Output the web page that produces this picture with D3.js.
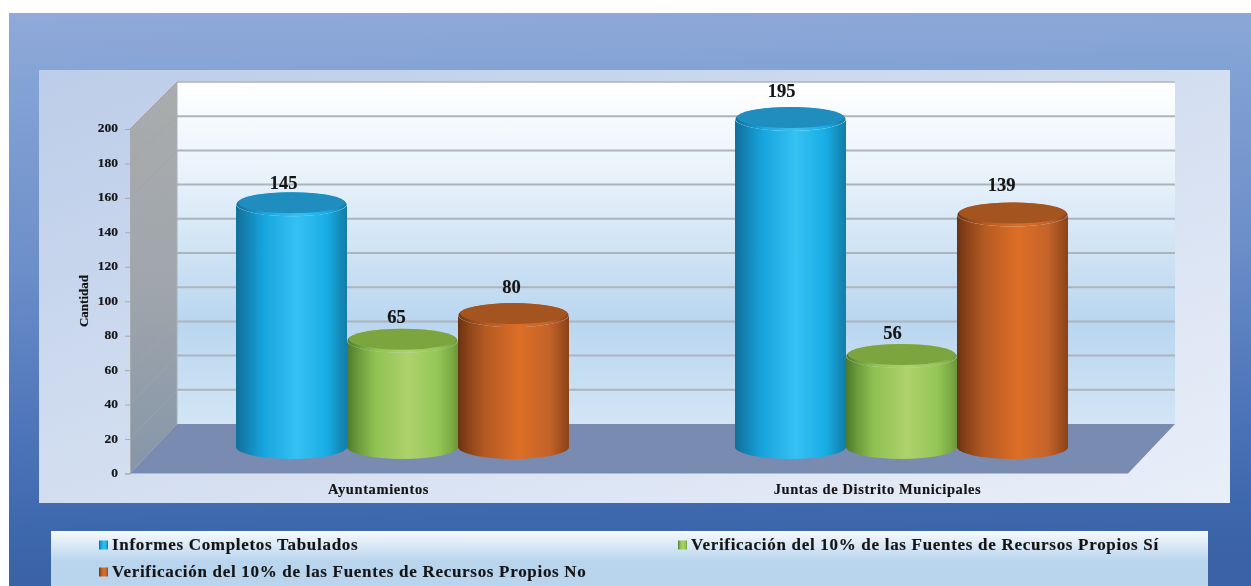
<!DOCTYPE html>
<html><head><meta charset="utf-8">
<script src="https://cdn.jsdelivr.net/npm/d3@7/dist/d3.min.js"></script>
<style>html,body{margin:0;padding:0;background:#fff}svg{display:block;filter:blur(0.45px)}
text{font-family:"Liberation Serif",serif;font-weight:bold;fill:#141414;stroke:#141414;stroke-width:.15px}</style></head>
<body><svg id="c" width="1251" height="586"></svg>
<script>
const categories=["Ayuntamientos","Juntas de Distrito Municipales"];
const seriesNames=["Informes Completos Tabulados","Verificación del 10% de las Fuentes de Recursos Propios Sí","Verificación del 10% de las Fuentes de Recursos Propios No"];
const informes=[145,195];
const verificacionSi=[65,56];
const verificacionNo=[80,139];
const yTicks=[0,20,40,60,80,100,120,140,160,180,200];
const seriesValues=[informes,verificacionSi,verificacionNo];
const labelNudgeX=[[-8,-9],[-6,-9],[-2,-11]];
const labelNudgeY=[[0,-7],[-3,-2],[-7,-9]];

const svg=d3.select("#c"),defs=svg.append("defs");
function grad(id,stops,x1=0,y1=0,x2=0,y2=1){
  const g=defs.append("linearGradient").attr("id",id).attr("x1",x1).attr("y1",y1).attr("x2",x2).attr("y2",y2);
  stops.forEach(s=>g.append("stop").attr("offset",s[0]).attr("stop-color",s[1]));
}
grad("outer",[[0,"#90aad9"],[.12,"#84a3d5"],[.45,"#6c8ec9"],[.75,"#4b73b8"],[.9,"#3e68ad"],[1,"#3a62a4"]],0,0,.05,1);
grad("panel",[[0,"#bccde9"],[.5,"#d3def0"],[1,"#e9eff9"]],0,0,1,1);
grad("wall",[[0,"#ffffff"],[.25,"#eaf3fb"],[.7,"#b9d6ef"],[1,"#d2e5f5"]]);
grad("side",[[0,"#aaacac"],[.5,"#a0a6ac"],[1,"#8696a8"]]);
grad("legendBg",[[0,"#f6fafe"],[.55,"#b9d5ed"],[1,"#b9d5ed"]]);
const palette=[
 {id:"b",top:"#1f8dbd",st:[[0,"#126f98"],[.1,"#1384b5"],[.25,"#17a5dd"],[.55,"#36c1f3"],[.82,"#17ade4"],[.95,"#1488b6"],[1,"#137da8"]]},
 {id:"g",top:"#7ca53f",st:[[0,"#4c7a2d"],[.1,"#6b9a3a"],[.25,"#8ec152"],[.55,"#aed26c"],[.82,"#94c656"],[.95,"#7aa843"],[1,"#6b953a"]]},
 {id:"o",top:"#a4541f",st:[[0,"#6b3212"],[.1,"#8e4519"],[.25,"#b55a23"],[.55,"#dd6f26"],[.82,"#c4632a"],[.95,"#9a4c1d"],[1,"#8a4218"]]}];
palette.forEach(p=>grad("cy"+p.id,p.st,0,0,1,0));

svg.append("rect").attr("x",9).attr("y",13).attr("width",1242).attr("height",573).attr("fill","url(#outer)");
svg.append("rect").attr("x",39).attr("y",70).attr("width",1191).attr("height",433).attr("fill","url(#panel)");

const x=d3.scaleBand().domain(categories).range([129,1127]);
const yFront=d3.scaleLinear().domain([0,200]).range([473.5,129]);
const yBack=d3.scaleLinear().domain([0,200]).range([424,82]);
const yTop=d3.scaleLinear().domain([0,200]).range([451.5,110.5]);
const baseCy=447, rx=55.5, ry=12;
const inner=d3.scaleBand().domain(d3.range(seriesValues.length)).range([-166.5,166.5]);

// walls and floor
svg.append("polygon").attr("fill","url(#side)").attr("points",[[130,yFront(200)],[177,yBack(200)],[177,yBack(0)],[130,yFront(0)]].join(" "));
svg.append("rect").attr("x",177).attr("y",yBack(200)).attr("width",998).attr("height",yBack(0)-yBack(200)).attr("fill","url(#wall)");
svg.append("polygon").attr("fill","#798bb0").attr("points",[[130,yFront(0)],[177,yBack(0)],[1175,yBack(0)],[1128,yFront(0)]].join(" "));
yTicks.slice(1).forEach(v=>{
  svg.append("line").attr("x1",130).attr("x2",177).attr("y1",yFront(v)).attr("y2",yBack(v)).attr("stroke","#a2a4a4").attr("stroke-width",.8);
  svg.append("line").attr("x1",177).attr("x2",1175).attr("y1",yBack(v)).attr("y2",yBack(v)).attr("stroke","#adb4bb").attr("stroke-width",v===200?1.6:2);
});
svg.append("line").attr("x1",130).attr("x2",1128).attr("y1",yFront(0)).attr("y2",yFront(0)).attr("stroke","#b4b8bf").attr("stroke-width",1.2);
svg.append("line").attr("x1",177).attr("x2",177).attr("y1",yBack(200)).attr("y2",yBack(0)).attr("stroke","#a8b0b6").attr("stroke-width",1);

// axes
const ay=svg.append("g").attr("transform","translate(130,0)").call(d3.axisLeft(yFront).tickValues(yTicks).tickSize(5).tickPadding(7));
ay.select(".domain").attr("stroke","#a8abb0");
ay.selectAll(".tick line").attr("stroke","#a8abb0");
ay.selectAll("text").style("font-size","13.5px").attr("dy","0.22em");
const ax=svg.append("g").attr("transform","translate(0,473.5)").call(d3.axisBottom(x).tickSize(0).tickPadding(10));
ax.select(".domain").remove();
ax.selectAll("text").style("font-size","14.5px").style("letter-spacing","0.6px");
svg.append("text").attr("transform","translate(88,301) rotate(-90)").attr("text-anchor","middle").style("font-size","13px").text("Cantidad");

// cylinders
const bars=[];
categories.forEach((c,i)=>seriesValues.forEach((vals,s)=>bars.push({c,s,v:vals[i],i})));
const cylPath=(cx,top)=>`M${cx-rx},${top}L${cx-rx},${baseCy}A${rx},${ry} 0 0 0 ${cx+rx},${baseCy}L${cx+rx},${top}A${rx},${ry} 0 0 1 ${cx-rx},${top}Z`;
const cg=svg.append("g");
bars.forEach(d=>{
  const p=palette[d.s], cx=x(d.c)+x.bandwidth()/2+24+inner(d.s)+inner.bandwidth()/2, top=yTop(d.v);
  cg.append("path").attr("d",cylPath(cx,top)).attr("fill",`url(#cy${p.id})`);
  cg.append("ellipse").attr("cx",cx).attr("cy",top).attr("rx",rx-.5).attr("ry",ry).attr("fill",`url(#cy${p.id})`);
  cg.append("ellipse").attr("cx",cx).attr("cy",top-1.5).attr("rx",rx-2).attr("ry",ry-1.5).attr("fill",p.top);
  cg.append("text").attr("x",cx+labelNudgeX[d.s][d.i]).attr("y",top-15+labelNudgeY[d.s][d.i]).attr("text-anchor","middle").style("font-size","18.5px").text(d.v);
});

// legend
svg.append("rect").attr("x",51).attr("y",531).attr("width",1157).attr("height",55).attr("fill","url(#legendBg)");
const legendX=d3.scaleOrdinal().domain([0,1,2]).range([99,678,99]);
const legendY=d3.scaleOrdinal().domain([0,1,2]).range([545,545,572]);
const lg=svg.append("g");
seriesNames.forEach((n,i)=>{
  const g=lg.append("g").attr("transform",`translate(${legendX(i)},${legendY(i)})`);
  g.append("rect").attr("x",0).attr("y",-4.5).attr("width",9).attr("height",9).attr("fill",`url(#cy${palette[i].id})`);
  g.append("text").attr("x",13).attr("y",5).style("font-size","17px").style("letter-spacing","0.7px").text(n);
});
</script></body></html>
